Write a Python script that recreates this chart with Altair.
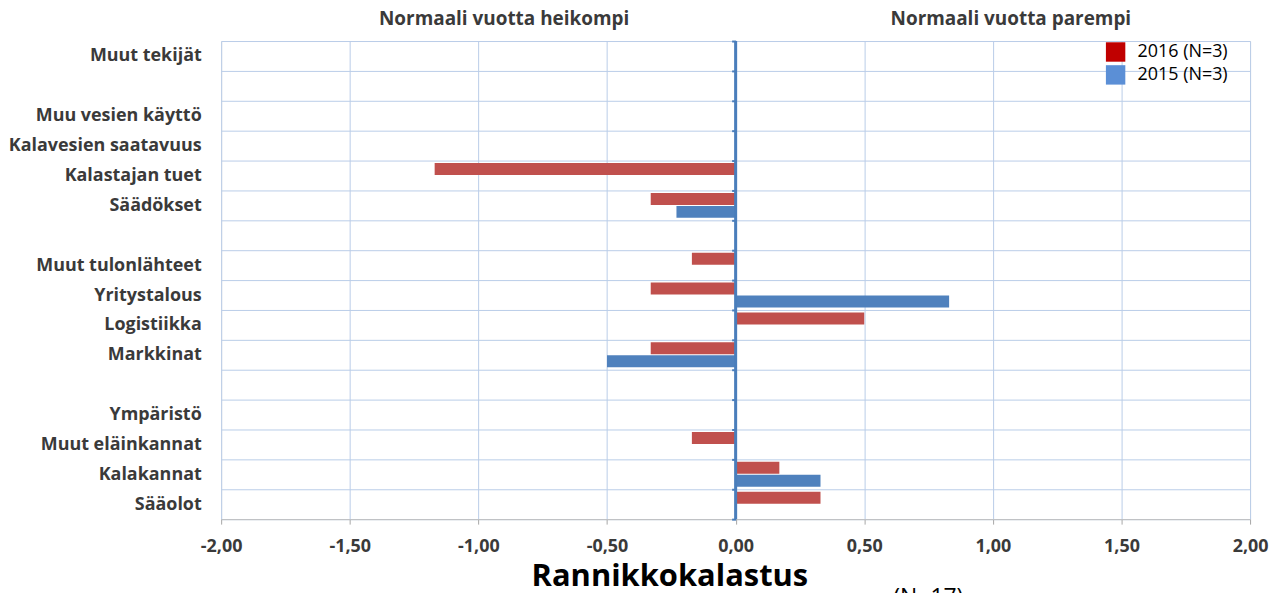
import altair as alt
import pandas as pd

# ---- data ----
categories = ["Muut tekijät", " ", "Muu vesien käyttö", "Kalavesien saatavuus",
              "Kalastajan tuet", "Säädökset", "  ", "Muut tulonlähteet",
              "Yritystalous", "Logistiikka", "Markkinat", "   ", "Ympäristö",
              "Muut eläinkannat", "Kalakannat", "Sääolot"]
values_2016 = [None, None, None, None, -1.17, -0.33, None, -0.17,
               -0.33, 0.50, -0.33, None, None, -0.17, 0.17, 0.33]
values_2015 = [None, None, None, None, None, -0.23, None, None,
               0.83, None, -0.50, None, None, None, 0.33, None]
series = ["2016 (N=3)", "2015 (N=3)"]
bar_colors = ["#c0504d", "#4f81bd"]
legend_colors = ["#c00000", "#5b8fd6"]
x_ticks = [-2.0, -1.5, -1.0, -0.5, 0.0, 0.5, 1.0, 1.5, 2.0]
header_labels = ["Normaali vuotta heikompi", "Normaali vuotta parempi"]
header_x = [-0.9, 1.07]
chart_title = "Rannikkokalastus"
subtitle_text = "(N=17)"

FONT = "Open Sans"
GRID = "#b9cde8"

rows = []
for cat, v16, v15 in zip(categories, values_2016, values_2015):
    if v16 is not None:
        rows.append({"category": cat, "series": series[0], "value": v16})
    if v15 is not None:
        rows.append({"category": cat, "series": series[1], "value": v15})
bars_df = pd.DataFrame(rows)
cat_df = pd.DataFrame({"category": categories})

y_scale = alt.Scale(domain=categories, paddingInner=0, paddingOuter=0)
x_scale = alt.Scale(domain=[-2, 2], nice=False, zero=False)

label_expr = "(datum.value < 0 ? '-' : '') + replace(format(abs(datum.value), '.2f'), '.', ',')"

bars = alt.Chart(bars_df).mark_bar().encode(
    y=alt.Y("category:N", sort=categories, scale=y_scale,
            axis=alt.Axis(title=None, domain=False, ticks=False, grid=True,
                          tickBand="extent", gridColor=GRID, gridWidth=1,
                          labelFont=FONT, labelFontSize=18, labelFontWeight="bold",
                          labelColor="#3a3a3a", labelPadding=20, labelLimit=400,
                          orient="left")),
    yOffset=alt.YOffset("series:N", sort=series,
                        scale=alt.Scale(domain=series, paddingInner=0.077, paddingOuter=0.19)),
    x=alt.X("value:Q", scale=x_scale, stack=None,
            axis=alt.Axis(values=x_ticks, labelExpr=label_expr, grid=True,
                          gridColor=GRID, gridWidth=1, domainColor="#bfbfbf",
                          tickColor="#a6a6a6", tickSize=5, labelPadding=13,
                          labelFlush=False,
                          labelFont=FONT, labelFontSize=18, labelFontWeight="bold",
                          labelColor="#3a3a3a",
                          title=chart_title, titleFont=FONT, titleFontSize=31,
                          titleFontWeight="bold", titleColor="#000000",
                          titleX=450, titleY=67, titleBaseline="alphabetic")),
    color=alt.Color("series:N", scale=alt.Scale(domain=series, range=bar_colors), legend=None),
)

zero_axis = alt.Chart(cat_df).mark_bar(opacity=0).encode(
    y=alt.Y("category:N", sort=categories, scale=y_scale,
            axis=alt.Axis(title=None, orient="left", offset=-516.5, labels=False,
                          domain=False, grid=False, ticks=True, tickBand="extent",
                          tickSize=4, tickWidth=2, tickColor="#4a7ebb")),
)

zero_line = alt.Chart(pd.DataFrame({"x": [0.0]})).mark_rule(
    color="#4a7ebb", strokeWidth=3).encode(x=alt.X("x:Q", scale=x_scale))

headers = alt.Chart(pd.DataFrame({"label": header_labels, "x": header_x})).mark_text(
    font=FONT, fontSize=19, fontWeight="bold", color="#3a3a3a", baseline="alphabetic"
).encode(x=alt.X("x:Q", scale=x_scale), y=alt.value(-16), text="label:N")

note = alt.Chart(pd.DataFrame({"t": [subtitle_text]})).mark_text(
    font=FONT, fontSize=23, color="#000000", baseline="top", align="center"
).encode(x=alt.value(710), y=alt.value(548), text="t:N")

legend_layer = alt.Chart(pd.DataFrame({"series": series})).mark_square(opacity=0).encode(
    x=alt.value(0), y=alt.value(0),
    color=alt.Color("series:N", sort=series,
                    scale=alt.Scale(domain=series, range=legend_colors),
                    legend=alt.Legend(title=None, orient="none", legendX=888, legendY=1,
                                      symbolType="square", symbolSize=380,
                                      symbolOpacity=1, symbolStrokeWidth=0,
                                      labelFont=FONT, labelFontSize=18,
                                      labelColor="#000000", rowPadding=3,
                                      labelOffset=12)),
)

chart = alt.layer(bars, zero_axis, zero_line, headers, note, legend_layer).resolve_scale(
    color="independent"
).resolve_axis(y="independent").properties(
    width=1033, height=480,
    autosize=alt.AutoSizeParams(type="none"),
    padding={"left": 214, "top": 32, "right": 20, "bottom": 75},
).configure_view(stroke=GRID, strokeWidth=1).configure(background="white")

chart.save("out.html", embed_options={"renderer": "svg", "actions": False})
